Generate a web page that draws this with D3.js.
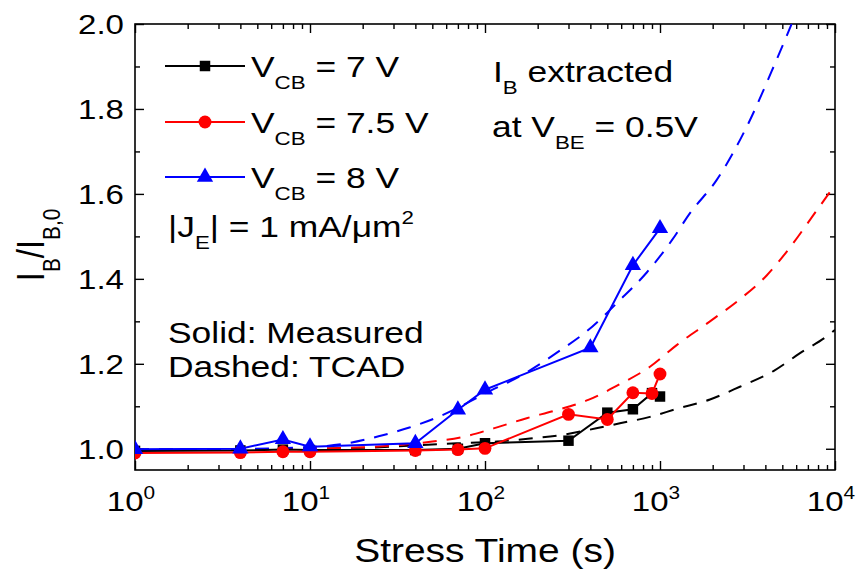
<!DOCTYPE html>
<html><head><meta charset="utf-8">
<script src="https://cdn.jsdelivr.net/npm/d3@7/dist/d3.min.js"></script>
<style>body{margin:0;background:#fff}</style>
</head><body>
<svg id="c" width="861" height="571"></svg>
<script>
// ---- measured data (solid) ----
const measT_7V  = [1, 4, 7, 10, 40, 70, 100, 300, 500, 700, 900, 1000];
const measV_7V  = [0.995, 0.996, 0.998, 0.997, 0.997, 1.000, 1.013, 1.019, 1.085, 1.093, 1.131, 1.123];
const measT_75V = [1, 4, 7, 10, 40, 70, 100, 300, 500, 700, 900, 1000];
const measV_75V = [0.990, 0.991, 0.993, 0.993, 0.996, 0.998, 1.001, 1.081, 1.069, 1.132, 1.130, 1.176];
const measT_8V  = [1, 4, 7, 10, 40, 70, 100, 400, 700, 1000];
const measV_8V  = [0.999, 1.000, 1.022, 1.005, 1.013, 1.092, 1.139, 1.238, 1.432, 1.519];
// ---- TCAD data (dashed) ----
const tcadT_7V  = [1, 3, 10, 30, 55, 82, 117, 181, 269, 398, 590, 876, 1245, 1930, 2860, 4450, 6310, 9340, 10000];
const tcadV_7V  = [0.998, 0.999, 1.000, 1.005, 1.011, 1.014, 1.017, 1.024, 1.032, 1.045, 1.060, 1.075, 1.094, 1.116, 1.146, 1.183, 1.225, 1.270, 1.280];
const tcadT_75V = [1, 3, 10, 30, 50, 75, 112, 173, 257, 389, 590, 876, 1245, 1930, 2860, 4070, 5530, 7520, 10000];
const tcadV_75V = [0.997, 0.998, 1.000, 1.008, 1.017, 1.028, 1.048, 1.072, 1.091, 1.115, 1.152, 1.193, 1.244, 1.300, 1.352, 1.408, 1.474, 1.550, 1.621];
const tcadT_8V  = [1, 3, 10, 17, 25, 37, 57, 100, 173, 270, 380, 590, 840, 1170, 1480, 2110, 3130, 4540, 5650];
const tcadV_8V  = [0.998, 0.999, 1.004, 1.014, 1.030, 1.050, 1.079, 1.130, 1.180, 1.232, 1.276, 1.350, 1.415, 1.491, 1.554, 1.633, 1.758, 1.907, 2.000];
// ---- axes ----
const xMajor = [1, 10, 100, 1000, 10000];
const xMajorExp = ["0", "1", "2", "3", "4"];
const yMajor = [1.0, 1.2, 1.4, 1.6, 1.8, 2.0];
const yMinor = [1.1, 1.3, 1.5, 1.7, 1.9];
const seriesNames = ["7", "7.5", "8"];
const seriesColors = ["#000000", "#ff0000", "#0000ff"];

const L = 135, R = 835, T = 24, B = 470;
const SX = 1.18;
const FONT = "'Liberation Sans', Arial, Helvetica, sans-serif";
const svg = d3.select("#c");
const x = d3.scaleLog().domain([1, 1e4]).range([L, R]);
const y = d3.scaleLinear().domain([0.95, 2.0]).range([B, T]);

const xMinor = [];
for (let d = 1; d < 1e4; d *= 10) for (let k = 2; k <= 9; k++) xMinor.push(d * k);

// rich text helper
function rich(px, py, parts, size, opts = {}) {
  const t = svg.append("text")
    .attr("transform", `translate(${px},${py}) scale(${SX},1)` + (opts.rotate ? ` rotate(${opts.rotate})` : ""))
    .attr("font-family", FONT).attr("font-size", size).attr("fill", "#000")
    .attr("text-anchor", opts.anchor || "start");
  let off = 0;
  parts.forEach(p => {
    let target = 0, fs = size;
    if (p.sub) { target = size * 0.4; fs = size * 0.63; }
    if (p.sup) { target = -size * 0.42; fs = size * 0.63; }
    t.append("tspan").attr("dy", target - off).attr("font-size", fs).text(p.t);
    off = target;
  });
  return t;
}

// clip
svg.append("defs").append("clipPath").attr("id", "clip")
  .append("rect").attr("x", L).attr("y", T).attr("width", R - L).attr("height", B - T);

// axes ticks (inward)
function addAxis(gen, tr, vals, size) {
  const g = svg.append("g").attr("transform", tr)
    .call(gen.tickValues(vals).tickSize(-size).tickFormat(""));
  g.select(".domain").remove();
  g.selectAll(".tick line").attr("stroke", "#000").attr("stroke-width", 1.4);
}
addAxis(d3.axisBottom(x), `translate(0,${B})`, xMajor, 9);
addAxis(d3.axisBottom(x), `translate(0,${B})`, xMinor, 5);
addAxis(d3.axisTop(x), `translate(0,${T})`, xMajor, 9);
addAxis(d3.axisTop(x), `translate(0,${T})`, xMinor, 5);
addAxis(d3.axisLeft(y), `translate(${L},0)`, yMajor, 9);
addAxis(d3.axisLeft(y), `translate(${L},0)`, yMinor, 5);
addAxis(d3.axisRight(y), `translate(${R},0)`, yMajor, 9);
addAxis(d3.axisRight(y), `translate(${R},0)`, yMinor, 5);

svg.append("rect").attr("x", L).attr("y", T).attr("width", R - L).attr("height", B - T)
  .attr("fill", "none").attr("stroke", "#000").attr("stroke-width", 1.6);

// tick labels
yMajor.forEach(v => rich(L - 11, y(v) + 10, [{t: v.toFixed(1)}], 28, {anchor: "end"}));
xMajor.forEach((v, i) => rich(x(v) - 4, 511, [{t: "10"}, {t: xMajorExp[i], sup: true}], 28, {anchor: "middle"}));

// axis titles
rich(485, 562, [{t: "Stress Time (s)"}], 33, {anchor: "middle"});
rich(44, 245, [{t: "I"}, {t: "B", sub: true}, {t: "/I"}, {t: "B,0", sub: true}], 33, {anchor: "middle", rotate: -90});

// data
const plot = svg.append("g").attr("clip-path", "url(#clip)");
const tcad = [[tcadT_7V, tcadV_7V], [tcadT_75V, tcadV_75V], [tcadT_8V, tcadV_8V]];
const meas = [[measT_7V, measV_7V], [measT_75V, measV_75V], [measT_8V, measV_8V]];
const lineGen = d3.line().x(d => x(d[0])).y(d => y(d[1]));
const smooth = d3.line().x(d => x(d[0])).y(d => y(d[1])).curve(d3.curveMonotoneX);
tcad.forEach((s, i) => {
  plot.append("path").datum(d3.zip(s[0], s[1])).attr("d", smooth)
    .attr("fill", "none").attr("stroke", seriesColors[i]).attr("stroke-width", 2)
    .attr("stroke-dasharray", "14,10");
});
const symbols = [d3.symbolSquare, d3.symbolCircle, d3.symbolTriangle];
const symSizes = [110, 130, 115];
meas.forEach((s, i) => {
  const pts = d3.zip(s[0], s[1]);
  plot.append("path").datum(pts).attr("d", lineGen)
    .attr("fill", "none").attr("stroke", seriesColors[i]).attr("stroke-width", 2);
  plot.selectAll(null).data(pts).enter().append("path")
    .attr("transform", d => `translate(${x(d[0])},${y(d[1])})`)
    .attr("d", d3.symbol().type(symbols[i]).size(symSizes[i]))
    .attr("fill", seriesColors[i]);
});

// legend
const legY = [66, 122, 177];
seriesNames.forEach((n, i) => {
  svg.append("line").attr("x1", 165).attr("x2", 245).attr("y1", legY[i]).attr("y2", legY[i])
    .attr("stroke", seriesColors[i]).attr("stroke-width", 2);
  svg.append("path").attr("transform", `translate(205,${legY[i]})`)
    .attr("d", d3.symbol().type(symbols[i]).size(symSizes[i])).attr("fill", seriesColors[i]);
  rich(251, legY[i] + 11, [{t: "V"}, {t: "CB", sub: true}, {t: " = " + n + " V"}], 30);
});
rich(168, 237, [{t: "|J"}, {t: "E", sub: true}, {t: "| = 1 mA/\u03BCm"}, {t: "2", sup: true}], 30);
rich(493, 82, [{t: "I"}, {t: "B", sub: true}, {t: " extracted"}], 30);
rich(492, 137, [{t: "at V"}, {t: "BE", sub: true}, {t: " = 0.5V"}], 30);
rich(168, 343, [{t: "Solid: Measured"}], 30);
rich(168, 377, [{t: "Dashed: TCAD"}], 30);
</script>
</body></html>
